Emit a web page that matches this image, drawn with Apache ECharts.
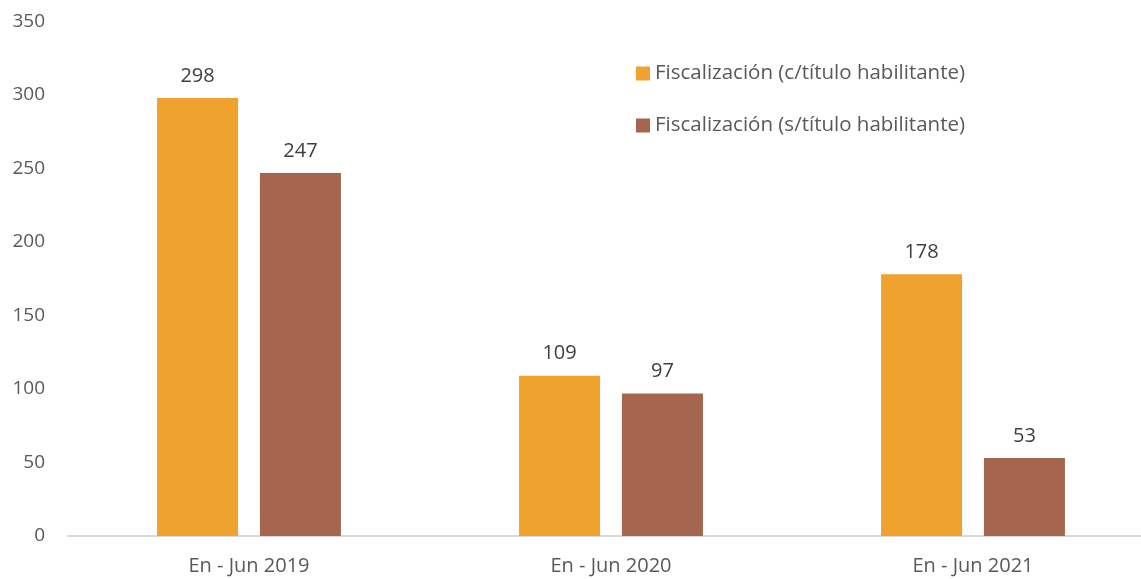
<!DOCTYPE html>
<html>
<head>
<meta charset="utf-8">
<script src="https://cdn.jsdelivr.net/npm/echarts@6/dist/echarts.min.js"></script>
<style>
html,body{margin:0;padding:0;background:#fff;}
#chart{width:1141px;height:579px;}
</style>
</head>
<body>
<div id="chart"></div>
<script>
// Periods and counts of inspections, with and without an operating permit
const categories = ['En - Jun 2019', 'En - Jun 2020', 'En - Jun 2021'];
const seriesNames = ['Fiscalización (c/título habilitante)', 'Fiscalización (s/título habilitante)'];
const conTitulo = [298, 109, 178];
const sinTitulo = [247, 97, 53];
const yTicks = { min: 0, max: 350, interval: 50 };

const FONT = 'Open Sans, Lato, sans-serif';
const TEXT = '#595959';

const chart = echarts.init(document.getElementById('chart'), null, { renderer: 'canvas' });
chart.setOption({
  animation: false,
  backgroundColor: '#ffffff',
  // plot area runs slightly past the right edge of the canvas
  grid: { left: 68, right: -13, top: 21.5, bottom: 43, containLabel: false, outerBoundsMode: 'none' },
  legend: {
    orient: 'vertical',
    left: 636,
    top: 63,
    padding: 0,
    itemWidth: 14,
    itemHeight: 14,
    itemGap: 31,
    icon: 'rect',
    textStyle: { fontFamily: FONT, fontSize: 20.5, color: TEXT },
    data: seriesNames
  },
  xAxis: {
    type: 'category',
    data: categories,
    axisLine: { show: true, lineStyle: { color: '#d9d9d9', width: 2 } },
    axisTick: { show: false },
    axisLabel: { fontFamily: FONT, fontSize: 20, color: TEXT, margin: 20 }
  },
  yAxis: {
    type: 'value',
    min: yTicks.min,
    max: yTicks.max,
    interval: yTicks.interval,
    splitLine: { show: false },
    axisLine: { show: false },
    axisTick: { show: false },
    axisLabel: { fontFamily: FONT, fontSize: 19, color: TEXT, margin: 23 }
  },
  series: [
    {
      name: seriesNames[0],
      type: 'bar',
      data: conTitulo,
      barWidth: 81,
      barGap: '27%',
      itemStyle: { color: '#F0A22E' },
      label: { show: true, position: 'top', distance: 12, fontFamily: FONT, fontSize: 20, color: '#404040' }
    },
    {
      name: seriesNames[1],
      type: 'bar',
      data: sinTitulo,
      barWidth: 81,
      itemStyle: { color: '#A5654E' },
      label: { show: true, position: 'top', distance: 12, fontFamily: FONT, fontSize: 20, color: '#404040' }
    }
  ]
});
</script>
</body>
</html>
